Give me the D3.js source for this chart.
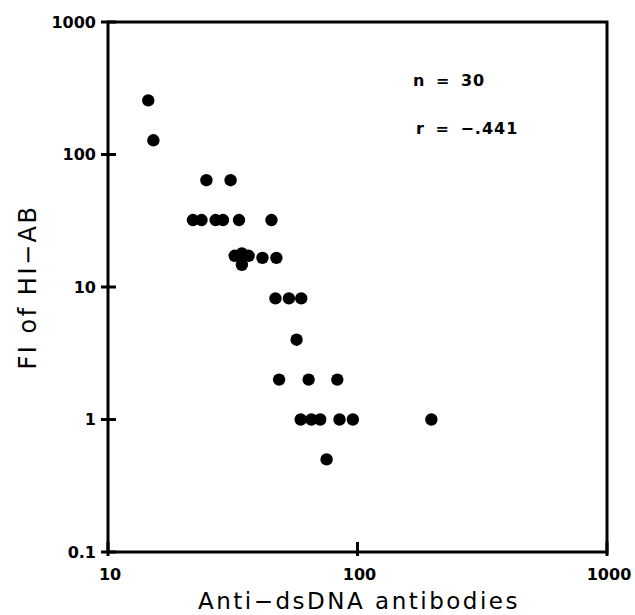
<!DOCTYPE html>
<html>
<head>
<meta charset="utf-8">
<script src="https://cdn.jsdelivr.net/npm/d3@7"></script>
<style>
  body { margin: 0; background: #fff; }
  svg { display: block; }
  text { fill: #000; font-family: "DejaVu Sans", sans-serif; }
</style>
</head>
<body>
<svg id="chart" width="635" height="615"></svg>
<script>
// anti-dsDNA antibodies (x) against FI of HI-AB (y), one entry per patient
const antiDsDNA = [
    14.5, 15.2,
    24.8, 31.0,
    21.9, 23.7, 27.0, 28.9, 33.5, 45.2,
    32.2, 34.4, 34.4, 36.6, 41.6, 47.3,
    46.9, 53.1, 59.5,
    57.0,
    48.5, 63.7, 83.0,
    59.2, 65.3, 70.9, 84.7, 95.8, 197.7,
    75.2
];
const fiValues = [
    256, 128,
    64, 64,
    32, 32, 32, 32, 32, 32,
    17.2, 17.9, 14.7, 17.2, 16.6, 16.6,
    8.2, 8.2, 8.2,
    4,
    2, 2, 2,
    1, 1, 1, 1, 1, 1,
    0.5
];
const xTicks = [10, 100, 1000];
const yTicks = [0.1, 1, 10, 100, 1000];
const xTickLabels = ['10', '100', '1000'];
const yTickLabels = ['0.1', '1', '10', '100', '1000'];
const notes = ['n = 30', 'r = \u2212.441'];

const svg = d3.select('#chart');
const margin = {top: 22, right: 28, bottom: 63, left: 108};
const width = 635 - margin.left - margin.right;
const height = 615 - margin.top - margin.bottom;

const x = d3.scaleLog().domain([10, 1000]).range([0, width]);
const y = d3.scaleLog().domain([0.1, 1000]).range([height, 0]);

const g = svg.append('g')
    .attr('transform', 'translate(' + margin.left + ',' + margin.top + ')');

// frame round the plot
g.append('rect')
    .attr('width', width)
    .attr('height', height)
    .attr('fill', 'none')
    .attr('stroke', '#000')
    .attr('stroke-width', 3);

// y ticks cross the left axis
g.selectAll('line.ytick')
    .data(yTicks)
    .enter().append('line')
    .attr('class', 'ytick')
    .attr('x1', -7).attr('x2', 8)
    .attr('y1', d => y(d)).attr('y2', d => y(d))
    .attr('stroke', '#000')
    .attr('stroke-width', 3);

g.selectAll('text.ylab')
    .data(yTicks)
    .enter().append('text')
    .attr('class', 'ylab')
    .attr('x', -12)
    .attr('y', d => y(d))
    .attr('dy', '0.36em')
    .attr('text-anchor', 'end')
    .style('font-weight', 'bold')
    .style('font-size', '16px')
    .text((d, i) => yTickLabels[i]);

// x ticks
g.selectAll('line.xtick')
    .data(xTicks)
    .enter().append('line')
    .attr('class', 'xtick')
    .attr('x1', d => x(d)).attr('x2', d => x(d))
    .attr('y1', height - 10).attr('y2', height + 4)
    .attr('stroke', '#000')
    .attr('stroke-width', 3);

g.selectAll('text.xlab')
    .data(xTicks)
    .enter().append('text')
    .attr('class', 'xlab')
    .attr('x', d => x(d) + 2)
    .attr('y', height + 28)
    .attr('text-anchor', 'middle')
    .style('font-weight', 'bold')
    .style('font-size', '16px')
    .text((d, i) => xTickLabels[i]);

// points
g.selectAll('circle.dot')
    .data(antiDsDNA.map((v, i) => ({x: v, y: fiValues[i]})))
    .enter().append('circle')
    .attr('class', 'dot')
    .attr('cx', d => x(d.x))
    .attr('cy', d => y(d.y))
    .attr('r', 6.2)
    .attr('fill', '#000');

// axis titles
svg.append('text')
    .attr('x', 359)
    .attr('y', 609)
    .attr('text-anchor', 'middle')
    .style('font-size', '23px')
    .style('letter-spacing', '2.5px')
    .text('Anti\u2212dsDNA antibodies');

svg.append('text')
    .attr('transform', 'translate(36,' + (margin.top + height / 2) + ') rotate(-90)')
    .attr('text-anchor', 'middle')
    .style('font-size', '24px')
    .style('letter-spacing', '2.5px')
    .text('FI of HI\u2212AB');

// n and r in the upper right
g.selectAll('text.note')
    .data(notes)
    .enter().append('text')
    .attr('class', 'note')
    .attr('x', (d, i) => 305 + i * 3)
    .attr('y', (d, i) => 64 + i * 48)
    .style('font-weight', 'bold')
    .style('font-size', '16px')
    .style('letter-spacing', '1px')
    .style('word-spacing', '4px')
    .text(d => d);
</script>
</body>
</html>
